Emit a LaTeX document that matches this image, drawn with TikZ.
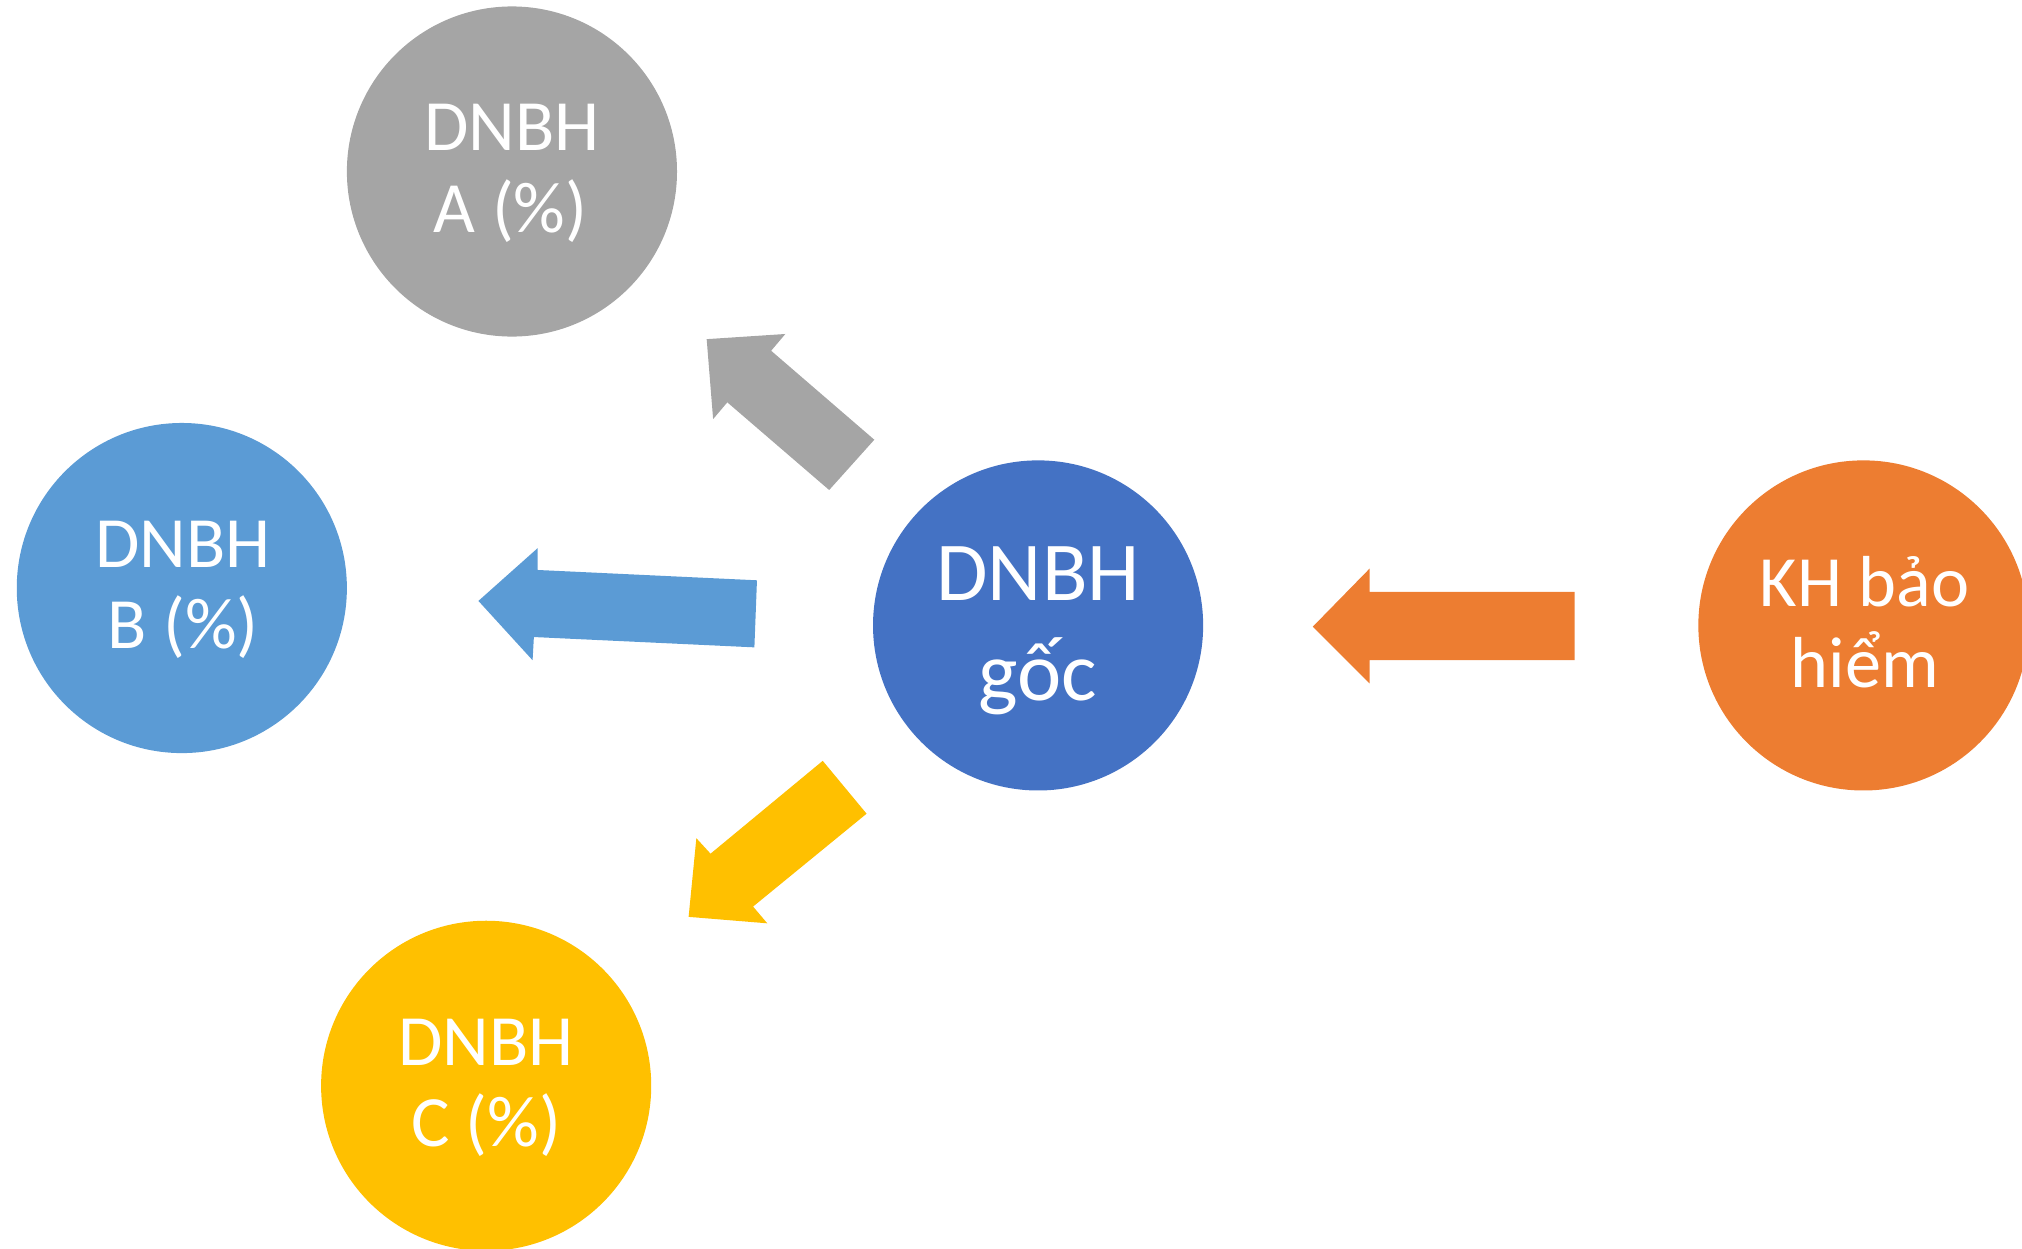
\documentclass[tikz,border=0pt]{standalone}
\usepackage{fontspec}
\setmainfont{Carlito}
\definecolor{cgray}{HTML}{A5A5A5}
\definecolor{cblue}{HTML}{5B9BD5}
\definecolor{cdark}{HTML}{4472C4}
\definecolor{corange}{HTML}{ED7D31}
\definecolor{cyellow}{HTML}{FFC000}
\begin{document}
\begin{tikzpicture}[x=1pt,y=-1pt,
  disc/.style={circle,minimum size=256pt,inner sep=0pt,draw=none},
  lbl/.style={text=white,anchor=base,inner sep=0pt,font=\fontsize{56}{63}\selectfont},
  biglbl/.style={text=white,anchor=base,inner sep=0pt,font=\fontsize{65}{77}\selectfont}]
\useasboundingbox (0,0) rectangle (1568,968);
\clip (0,0) rectangle (1568,968);
% circles
\node[disc,fill=cgray] (A) at (397,133) {};
\node[disc,fill=cblue] (B) at (141,456) {};
\node[disc,fill=cdark] (G) at (805,485) {};
\node[disc,fill=corange] (K) at (1445,485) {};
\node[disc,fill=cyellow] (C) at (377,842) {};
% labels
\node[lbl] (a1) at (397,117) {DNBH};
\node[lbl] (a2) at (396,180) {A (\%)};
\node[lbl] (b1) at (142,440) {DNBH};
\node[lbl] (b2) at (142,503) {B (\%)};
\node[biglbl] (g1) at (805,466) {DNBH};
\node[biglbl] (g2) at (805,543) {gốc};
\node[lbl] (k1) at (1446,470) {KH bảo};
\node[lbl] (k2) at (1446,533) {hiểm};
\node[lbl] (c1) at (377,826) {DNBH};
\node[lbl] (c2) at (377,889) {C (\%)};
% block arrows
\fill[corange] (1221,459) -- (1062,459) -- (1062,441) -- (1018,486) -- (1062,530) -- (1062,512) -- (1221,512) -- cycle;
\fill[cblue] (587,450) -- (417,442) -- (417,425) -- (371,466) -- (413,512) -- (414,494) -- (585,502) -- cycle;
\fill[cgray] (678,341) -- (598,272) -- (609,259) -- (548,263) -- (553,325) -- (564,312) -- (643,380) -- cycle;
\fill[cyellow] (638,590) -- (551,662) -- (540,650) -- (534,711) -- (595,716) -- (584,703) -- (672,631) -- cycle;
\end{tikzpicture}
\end{document}
